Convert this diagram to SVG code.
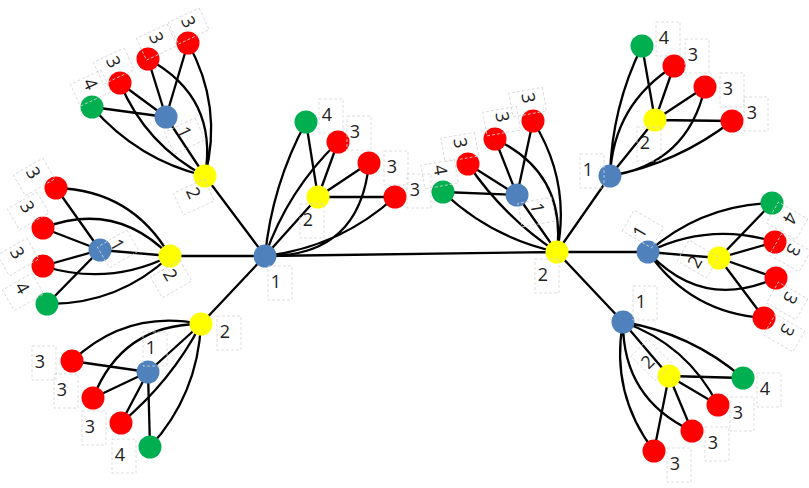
<svg xmlns="http://www.w3.org/2000/svg" width="809" height="488" viewBox="0 0 809 488">
<style>
.e{fill:none;stroke:#000;stroke-width:2.3;stroke-linecap:round}
.b{fill:#4f81bd}.y{fill:#ffff00}.r{fill:#ff0000}.g{fill:#00b050}
.lb{fill:none;stroke:#d4d4d4;stroke-width:0.8;stroke-dasharray:3 2}
.t{font-family:"Open Sans","Liberation Sans",Arial,sans-serif;font-size:18px;fill:#222;text-anchor:middle}
</style>
<rect width="809" height="488" fill="#fff"/>
<g id="connectors">
<path class="e" d="M265,256 L557,252 M265,256 L205,176 M265,256 L170,256 M265,256 L201,324 M265,256 L318,197 M557,252 L517,195 M557,252 L610,176 M557,252 L648,252 M557,252 L623,322"/>
<path class="e" d="M205,176 L166,117 M166,117 L92,107 M166,117 L120,83 M166,117 L148,59 M166,117 L188,43"/>
<path class="e" d="M205,176 Q137.5,159.6 92,107 M205,176 Q145.8,144.8 120,83 M205,176 Q218.6,97 148,59 M205,176 Q223.1,106.1 188,43"/>
<path class="e" d="M170,256 L100,250 M100,250 L56,188 M100,250 L43,228 M100,250 L43,266 M100,250 L47,304"/>
<path class="e" d="M170,256 Q132,190.1 56,188 M170,256 Q115.7,200.1 43,228 M170,256 Q108.5,286.4 43,266 M170,256 Q118.1,304.6 47,304"/>
<path class="e" d="M201,324 L148,372 M148,372 L72,361 M148,372 L93,398 M148,372 L121,423 M148,372 L150,447"/>
<path class="e" d="M201,324 Q126.9,309 72,361 M201,324 Q121.8,324.3 93,398 M201,324 Q170.9,381.5 121,423 M201,324 Q197.6,394.7 150,447"/>
<path class="e" d="M318,197 L306,122 M318,197 L338,142 M318,197 L369,163 M318,197 L395,197"/>
<path class="e" d="M265,256 Q272.1,184.9 306,122 M265,256 Q287.8,190.2 338,142 M265,256 Q359.8,257.3 369,163 M265,256 Q339.4,247.3 395,197"/>
<path class="e" d="M517,195 L443,192 M517,195 L468,164 M517,195 L495,139 M517,195 L533,121"/>
<path class="e" d="M557,252 Q491.6,238 443,192 M557,252 Q503.7,216.9 468,164 M557,252 Q566.7,173.2 495,139 M557,252 Q571.2,181.7 533,121"/>
<path class="e" d="M610,176 L655,120 M655,120 L642,46 M655,120 L674,66 M655,120 L705,87 M655,120 L732,121"/>
<path class="e" d="M610,176 Q611.7,107.5 642,46 M610,176 Q613.4,104.4 674,66 M610,176 Q687.8,163.8 705,87 M610,176 Q677.6,163.1 732,121"/>
<path class="e" d="M648,252 L719,258 M719,258 L772,203 M719,258 L775,242 M719,258 L776,278 M719,258 L764,318"/>
<path class="e" d="M648,252 Q701.2,205.2 772,203 M648,252 Q709.5,221.6 775,242 M648,252 Q702.6,311.1 776,278 M648,252 Q690.2,312.8 764,318"/>
<path class="e" d="M623,322 L669,376 M669,376 L743,378 M669,376 L718,405 M669,376 L692,431 M669,376 L654,451"/>
<path class="e" d="M623,322 Q690.8,333.2 743,378 M623,322 Q687.1,344.5 718,405 M623,322 Q622.6,398.6 692,431 M623,322 Q610.1,393.3 654,451"/>
</g>
<defs>
<g id="box"><rect class="lb" x="-8" y="-16" width="24" height="34"/></g>
</defs>
<g id="L1"><circle class="b" cx="265" cy="256" r="11.5"/><g transform="translate(276,282)"><use href="#box"/><text class="t" y="6">1</text></g></g>
<g id="R2"><circle class="y" cx="557" cy="252" r="11.5"/><g transform="translate(543,275)"><use href="#box"/><text class="t" y="6">2</text></g></g>
<g id="A_hub"><circle class="y" cx="205" cy="176" r="11.5"/><g transform="translate(193,193) rotate(65)"><use href="#box"/><text class="t" y="6">2</text></g></g>
<g id="A_center"><circle class="b" cx="166" cy="117" r="11.5"/><g transform="translate(184,132) rotate(65)"><use href="#box"/><text class="t" y="6">1</text></g></g>
<g id="A_g"><circle class="g" cx="92" cy="107" r="11.5"/><g transform="translate(90,84) rotate(65)"><use href="#box"/><text class="t" y="6">4</text></g></g>
<g id="A_r1"><circle class="r" cx="120" cy="83" r="11.5"/><g transform="translate(113,62) rotate(65)"><use href="#box"/><text class="t" y="6">3</text></g></g>
<g id="A_r2"><circle class="r" cx="148" cy="59" r="11.5"/><g transform="translate(156,38) rotate(65)"><use href="#box"/><text class="t" y="6">3</text></g></g>
<g id="A_r3"><circle class="r" cx="188" cy="43" r="11.5"/><g transform="translate(188,22) rotate(65)"><use href="#box"/><text class="t" y="6">3</text></g></g>
<g id="B_hub"><circle class="y" cx="170" cy="256" r="11.5"/><g transform="translate(170,275) rotate(60)"><use href="#box"/><text class="t" y="6">2</text></g></g>
<g id="B_center"><circle class="b" cx="100" cy="250" r="11.5"/><g transform="translate(117,245) rotate(60)"><use href="#box"/><text class="t" y="6">1</text></g></g>
<g id="B_r1"><circle class="r" cx="56" cy="188" r="11.5"/><g transform="translate(33,173) rotate(60)"><use href="#box"/><text class="t" y="6">3</text></g></g>
<g id="B_r2"><circle class="r" cx="43" cy="228" r="11.5"/><g transform="translate(27,207) rotate(60)"><use href="#box"/><text class="t" y="6">3</text></g></g>
<g id="B_r3"><circle class="r" cx="43" cy="266" r="11.5"/><g transform="translate(17,253) rotate(60)"><use href="#box"/><text class="t" y="6">3</text></g></g>
<g id="B_g"><circle class="g" cx="47" cy="304" r="11.5"/><g transform="translate(22,288) rotate(60)"><use href="#box"/><text class="t" y="6">4</text></g></g>
<g id="C_hub"><circle class="y" cx="201" cy="324" r="11.5"/><g transform="translate(225,332)"><use href="#box"/><text class="t" y="6">2</text></g></g>
<g id="C_center"><circle class="b" cx="148" cy="372" r="11.5"/><g transform="translate(151,348)"><use href="#box"/><text class="t" y="6">1</text></g></g>
<g id="C_r1"><circle class="r" cx="72" cy="361" r="11.5"/><g transform="translate(40,362)"><use href="#box"/><text class="t" y="6">3</text></g></g>
<g id="C_r2"><circle class="r" cx="93" cy="398" r="11.5"/><g transform="translate(62,390)"><use href="#box"/><text class="t" y="6">3</text></g></g>
<g id="C_r3"><circle class="r" cx="121" cy="423" r="11.5"/><g transform="translate(90,427)"><use href="#box"/><text class="t" y="6">3</text></g></g>
<g id="C_g"><circle class="g" cx="150" cy="447" r="11.5"/><g transform="translate(120,455)"><use href="#box"/><text class="t" y="6">4</text></g></g>
<g id="D_center"><circle class="y" cx="318" cy="197" r="11.5"/><g transform="translate(308,220)"><use href="#box"/><text class="t" y="6">2</text></g></g>
<g id="D_g"><circle class="g" cx="306" cy="122" r="11.5"/><g transform="translate(327,115)"><use href="#box"/><text class="t" y="6">4</text></g></g>
<g id="D_r1"><circle class="r" cx="338" cy="142" r="11.5"/><g transform="translate(355,132)"><use href="#box"/><text class="t" y="6">3</text></g></g>
<g id="D_r2"><circle class="r" cx="369" cy="163" r="11.5"/><g transform="translate(392,167)"><use href="#box"/><text class="t" y="6">3</text></g></g>
<g id="D_r3"><circle class="r" cx="395" cy="197" r="11.5"/><g transform="translate(415,190)"><use href="#box"/><text class="t" y="6">3</text></g></g>
<g id="E_center"><circle class="b" cx="517" cy="195" r="11.5"/><g transform="translate(537,208) rotate(80)"><use href="#box"/><text class="t" y="6">1</text></g></g>
<g id="E_g"><circle class="g" cx="443" cy="192" r="11.5"/><g transform="translate(440,170) rotate(80)"><use href="#box"/><text class="t" y="6">4</text></g></g>
<g id="E_r1"><circle class="r" cx="468" cy="164" r="11.5"/><g transform="translate(460,143) rotate(80)"><use href="#box"/><text class="t" y="6">3</text></g></g>
<g id="E_r2"><circle class="r" cx="495" cy="139" r="11.5"/><g transform="translate(502,117) rotate(80)"><use href="#box"/><text class="t" y="6">3</text></g></g>
<g id="E_r3"><circle class="r" cx="533" cy="121" r="11.5"/><g transform="translate(528,98) rotate(80)"><use href="#box"/><text class="t" y="6">3</text></g></g>
<g id="F_hub"><circle class="b" cx="610" cy="176" r="11.5"/><g transform="translate(588,170)"><use href="#box"/><text class="t" y="6">1</text></g></g>
<g id="F_center"><circle class="y" cx="655" cy="120" r="11.5"/><g transform="translate(645,143)"><use href="#box"/><text class="t" y="6">2</text></g></g>
<g id="F_g"><circle class="g" cx="642" cy="46" r="11.5"/><g transform="translate(664,38)"><use href="#box"/><text class="t" y="6">4</text></g></g>
<g id="F_r1"><circle class="r" cx="674" cy="66" r="11.5"/><g transform="translate(693,55)"><use href="#box"/><text class="t" y="6">3</text></g></g>
<g id="F_r2"><circle class="r" cx="705" cy="87" r="11.5"/><g transform="translate(728,89)"><use href="#box"/><text class="t" y="6">3</text></g></g>
<g id="F_r3"><circle class="r" cx="732" cy="121" r="11.5"/><g transform="translate(752,113)"><use href="#box"/><text class="t" y="6">3</text></g></g>
<g id="G_hub"><circle class="b" cx="648" cy="252" r="11.5"/><g transform="translate(640,232) rotate(-60)"><use href="#box"/><text class="t" y="6">1</text></g></g>
<g id="G_center"><circle class="y" cx="719" cy="258" r="11.5"/><g transform="translate(695,262) rotate(-60)"><use href="#box"/><text class="t" y="6">2</text></g></g>
<g id="G_g"><circle class="g" cx="772" cy="203" r="11.5"/><g transform="translate(790,218) rotate(120)"><use href="#box"/><text class="t" y="6">4</text></g></g>
<g id="G_r1"><circle class="r" cx="775" cy="242" r="11.5"/><g transform="translate(793,250) rotate(120)"><use href="#box"/><text class="t" y="6">3</text></g></g>
<g id="G_r2"><circle class="r" cx="776" cy="278" r="11.5"/><g transform="translate(790,298) rotate(120)"><use href="#box"/><text class="t" y="6">3</text></g></g>
<g id="G_r3"><circle class="r" cx="764" cy="318" r="11.5"/><g transform="translate(787,330) rotate(120)"><use href="#box"/><text class="t" y="6">3</text></g></g>
<g id="H_hub"><circle class="b" cx="623" cy="322" r="11.5"/><g transform="translate(641,302)"><use href="#box"/><text class="t" y="6">1</text></g></g>
<g id="H_center"><circle class="y" cx="669" cy="376" r="11.5"/><g transform="translate(648,362) rotate(-45)"><use href="#box"/><text class="t" y="6">2</text></g></g>
<g id="H_g"><circle class="g" cx="743" cy="378" r="11.5"/><g transform="translate(765,389)"><use href="#box"/><text class="t" y="6">4</text></g></g>
<g id="H_r1"><circle class="r" cx="718" cy="405" r="11.5"/><g transform="translate(738,413)"><use href="#box"/><text class="t" y="6">3</text></g></g>
<g id="H_r2"><circle class="r" cx="692" cy="431" r="11.5"/><g transform="translate(713,443)"><use href="#box"/><text class="t" y="6">3</text></g></g>
<g id="H_r3"><circle class="r" cx="654" cy="451" r="11.5"/><g transform="translate(675,464)"><use href="#box"/><text class="t" y="6">3</text></g></g>
</svg>
